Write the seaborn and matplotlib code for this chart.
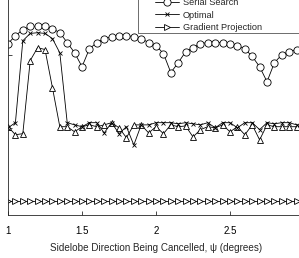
"""
Cancellation vs sidelobe direction, four methods
"""
import numpy as np
import pandas as pd
import matplotlib
matplotlib.use("Agg")
import matplotlib.pyplot as plt
from matplotlib.patches import Rectangle
import seaborn as sns

# --------------
# data
psi = [1.00, 1.05, 1.10, 1.15, 1.20, 1.25, 1.30, 1.35, 1.40, 1.45,
       1.50, 1.55, 1.60, 1.65, 1.70, 1.75, 1.80, 1.85, 1.90, 1.95,
       2.00, 2.05, 2.10, 2.15, 2.20, 2.25, 2.30, 2.35, 2.40, 2.45,
       2.50, 2.55, 2.60, 2.65, 2.70, 2.75, 2.80, 2.85, 2.90, 2.95]

conventional = [20.3, 18.1, 18.4, 38.4, 41.9, 41.4, 31.0, 20.3, 20.3, 18.9,
                20.3, 20.8, 20.3, 20.8, 21.4, 20.0, 17.3, 20.8, 20.8, 18.6,
                20.3, 18.4, 20.8, 20.3, 20.5, 17.5, 19.5, 20.3, 20.0, 20.8,
                18.9, 20.3, 18.1, 20.8, 16.7, 20.8, 20.3, 20.3, 20.3, 20.3]

serial_search = [43.0, 45.2, 46.8, 47.7, 47.7, 47.7, 47.1, 46.0, 43.3, 40.5,
                 36.7, 41.6, 43.3, 44.4, 44.9, 45.2, 45.2, 44.9, 44.4, 43.3,
                 42.5, 40.3, 35.1, 37.8, 40.8, 41.9, 43.0, 43.3, 43.3, 43.3,
                 43.0, 42.5, 41.6, 39.5, 36.7, 32.6, 37.8, 40.0, 40.8, 41.4]

optimal = [20.0, 21.4, 43.8, 45.8, 46.0, 45.8, 44.4, 40.5, 21.4, 20.8,
           20.3, 21.4, 21.4, 18.6, 21.4, 18.4, 20.3, 15.3, 20.8, 20.8,
           21.4, 21.4, 21.4, 21.1, 21.4, 21.1, 20.8, 21.4, 20.0, 21.4,
           21.4, 20.0, 21.4, 21.4, 19.5, 21.4, 21.1, 21.4, 21.4, 20.8]

gradient_projection = [0.0] * len(psi)

yticks = [0, 20, 40]
xticks = [1, 1.5, 2, 2.5]

# --------------
sns.set_style("ticks", {"xtick.direction": "in", "ytick.direction": "in"})
plt.rcParams["font.family"] = ["Liberation Sans", "DejaVu Sans"]

fig = plt.figure(figsize=(2.99, 2.58), dpi=100)
ax = fig.add_axes([0.0268, 0.1667, 0.99, 0.905])

series = [
    ("Conventional", conventional, "^", 5.0),
    ("Serial Search", serial_search, "o", 5.2),
    ("Optimal", optimal, "x", 3.2),
    ("Gradient Projection", gradient_projection, ">", 4.5),
]
for name, vals, mk, ms in series:
    df = pd.DataFrame({"psi": psi, "val": vals})
    sns.lineplot(data=df, x="psi", y="val", ax=ax, color="black", lw=0.6,
                 marker=mk, markersize=ms, markerfacecolor="white",
                 markeredgecolor="black", markeredgewidth=0.6, label=name)

ax.set_xlim(1, 3)
ax.set_ylim(-3.84, 60)
ax.set_xticks(xticks)
ax.set_xticklabels(["1", "1.5", "2", "2.5"])
ax.set_yticks(yticks)
ax.tick_params(labelsize=7, length=3, width=0.5, pad=8, colors="black")
ax.set_xlabel("Sidelobe Direction Being Cancelled, \u03c8 (degrees)",
              fontsize=7.1, labelpad=5)
ax.set_ylabel("")
for s in ax.spines.values():
    s.set_linewidth(0.6)

leg = ax.legend(loc="lower left", bbox_to_anchor=(0.508, 0.864),
                bbox_transform=fig.transFigure, borderaxespad=0,
                fontsize=6.6, frameon=False,
                handlelength=2.7, handletextpad=0.4, labelspacing=0.4,
                borderpad=0.3)

# legend frame (wider on the left than matplotlib's pad allows)
fig.patches.append(Rectangle((0.4615, 0.872), 0.6, 0.3,
                             transform=fig.transFigure, fill=False,
                             edgecolor="#555555", lw=0.6, zorder=5))

fig.savefig("out.png", dpi=100)
